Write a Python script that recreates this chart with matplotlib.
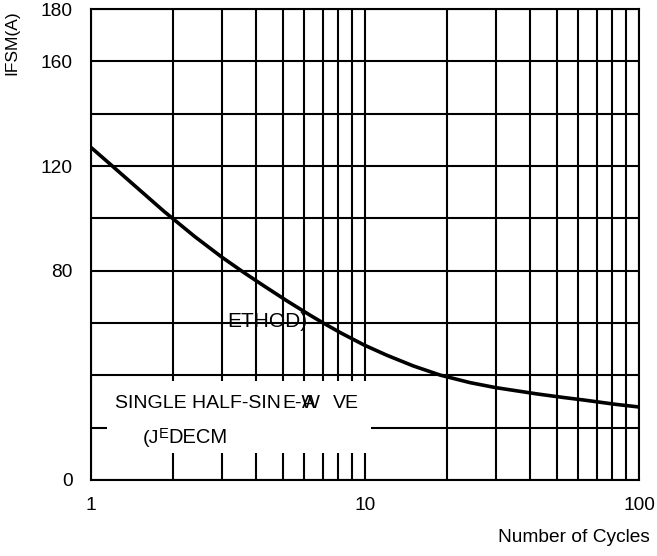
import numpy as np
import matplotlib.pyplot as plt
from matplotlib.patches import Rectangle
from matplotlib.ticker import FixedLocator, NullFormatter

plt.rcParams['font.family'] = ['Liberation Sans', 'DejaVu Sans']

# ========= DATA =========
cycles = [1, 1.19, 1.39, 1.85, 2.4, 3.0, 3.6, 4.26, 5.2, 6.3, 7.04, 8.2, 9.92,
          12.0, 15.0, 18.8, 24.2, 30.0, 42.4, 52.4, 62.5, 82.4, 100]
ifsm = [127.1, 120.2, 114.0, 102.6, 92.9, 85.2, 79.4, 74.3, 68.4, 63.0, 60.0, 56.1, 51.6,
        47.7, 43.6, 40.1, 37.2, 35.3, 32.9, 31.6, 30.6, 28.9, 27.9]

x_major = [1, 10, 100]
x_major_labels = ["1", "10", "100"]
x_minor = [2, 3, 4, 5, 6, 7, 8, 9, 20, 30, 40, 50, 60, 70, 80, 90]
y_grid = [0, 20, 40, 60, 80, 100, 120, 140, 160, 180]
y_labelled = [0, 80, 120, 160, 180]

x_title = "Number of Cycles"
y_title = "IFSM(A)"
# ==================================

fig = plt.figure(figsize=(6.57, 5.56), dpi=100)
ax = fig.add_axes([0.1385, 0.1367, 0.8341, 0.8471])

ax.set_xscale('log')
ax.set_xlim(1, 100)
ax.set_ylim(0, 180)
ax.set_axisbelow(True)

# ticks / grid
ax.xaxis.set_major_locator(FixedLocator(x_major))
ax.set_xticklabels(x_major_labels)
ax.xaxis.set_minor_locator(FixedLocator(x_minor))
ax.xaxis.set_minor_formatter(NullFormatter())
ax.set_yticks(y_grid)
ax.set_yticklabels([str(v) if v in y_labelled else "" for v in y_grid])

ax.grid(True, which='both', color='black', linewidth=1.5)
ax.tick_params(which='both', length=0, labelsize=13.8, colors='black')
ax.tick_params(axis='x', pad=12)
ax.tick_params(axis='y', pad=13)
for s in ax.spines.values():
    s.set_linewidth(1.5)
    s.set_color('black')

# white label box that hides the grid
ax.add_patch(Rectangle((0.029, 0.057), 0.482, 0.153, transform=ax.transAxes,
                       facecolor='white', edgecolor='none', zorder=1))

# curve
ax.plot(cycles, ifsm, color='black', linewidth=2.6, zorder=3,
        solid_capstyle='butt', solid_joinstyle='round')

# label text (garbled as in the source)
fs = 14
tkw = dict(transform=ax.transAxes, va='baseline', ha='left', zorder=4, color='black')
ax.text(0.0438, 0.153, "SINGLE HALF-SIN", fontsize=fs, **tkw)
ax.text(0.350, 0.153, "E-W", fontsize=fs, **tkw)
ax.text(0.385, 0.153, "A", fontsize=fs, **tkw)
ax.text(0.4416, 0.153, "VE", fontsize=fs, **tkw)
ax.text(0.0949, 0.0786, "(J", fontsize=fs, **tkw)
ax.text(0.124, 0.089, "E", fontsize=10.5, **tkw)
ax.text(0.1405, 0.0786, "DECM", fontsize=14.5, **tkw)
ax.text(0.248, 0.3255, "ETHOD)", fontsize=15, **tkw)

# axis titles
ax.set_xlabel(x_title, fontsize=13.8, ha='right', va='center')
ax.xaxis.set_label_coords(1.02, -0.123)
ax.set_ylabel(y_title, fontsize=12.5, ha='center', va='center')
ax.yaxis.set_label_coords(-0.144, 0.928)

fig.savefig("out.png", dpi=100)
